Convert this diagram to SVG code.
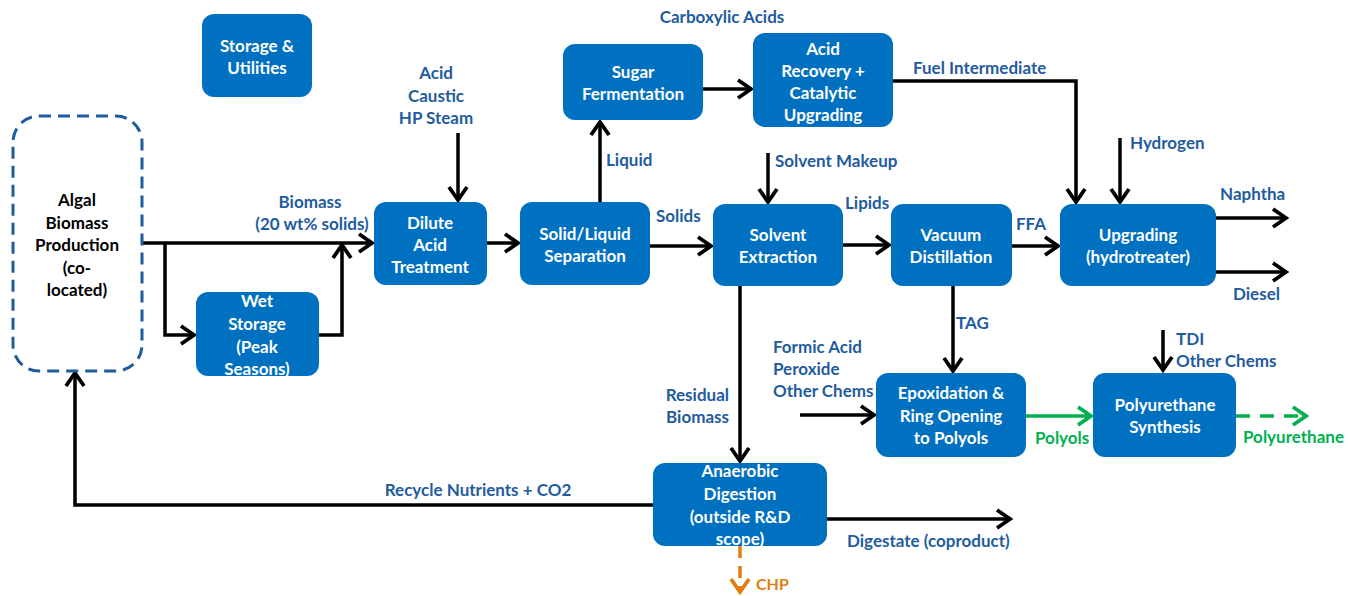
<svg xmlns="http://www.w3.org/2000/svg" width="1348" height="596" viewBox="0 0 1348 596">
<style>
.box{fill:#0070C0;}
.bt{fill:#fff;font-family:Lato,"Liberation Sans",sans-serif;font-weight:bold;font-size:17px;text-anchor:middle;}
.lb{fill:#1F5C9E;font-family:Lato,"Liberation Sans",sans-serif;font-weight:bold;font-size:17px;}
.gl{fill:#00B050;font-family:Lato,"Liberation Sans",sans-serif;font-weight:bold;font-size:17px;}
.ol{fill:#E07F10;font-family:Lato,"Liberation Sans",sans-serif;font-weight:bold;font-size:16px;}
.blk{fill:#000;font-family:Lato,"Liberation Sans",sans-serif;font-weight:bold;font-size:17px;text-anchor:middle;}
.c{fill:none;stroke:#000;stroke-width:3.5;}
.g{fill:none;stroke:#00B050;stroke-width:3.5;}
.o{fill:none;stroke:#E07F10;stroke-width:3.5;}
</style>
<defs>
<marker id="ah" markerUnits="userSpaceOnUse" markerWidth="18" markerHeight="22" refX="15" refY="11" orient="auto" viewBox="0 0 18 22">
<path d="M2,2 L15,11 L2,20" fill="none" stroke="#000" stroke-width="3.8"/>
</marker>
<marker id="ahg" markerUnits="userSpaceOnUse" markerWidth="18" markerHeight="22" refX="15" refY="11" orient="auto" viewBox="0 0 18 22">
<path d="M2,2 L15,11 L2,20" fill="none" stroke="#00B050" stroke-width="3.8"/>
</marker>
<marker id="aho" markerUnits="userSpaceOnUse" markerWidth="18" markerHeight="22" refX="15" refY="11" orient="auto" viewBox="0 0 18 22">
<path d="M2,2 L15,11 L2,20" fill="none" stroke="#E07F10" stroke-width="3.8"/>
</marker>
</defs>

<g id="connectors">
<path class="c" d="M142,243 H372" marker-end="url(#ah)"/>
<path class="c" d="M165,243 V335 H194" marker-end="url(#ah)"/>
<path class="c" d="M318,335 H342 V245" marker-end="url(#ah)"/>
<path class="c" d="M458,133 V200" marker-end="url(#ah)"/>
<path class="c" d="M486,243 H518" marker-end="url(#ah)"/>
<path class="c" d="M600,202 V122" marker-end="url(#ah)"/>
<path class="c" d="M650,246 H711" marker-end="url(#ah)"/>
<path class="c" d="M703,89 H751" marker-end="url(#ah)"/>
<path class="c" d="M893,81 H1076 V202" marker-end="url(#ah)"/>
<path class="c" d="M1120,138 V202" marker-end="url(#ah)"/>
<path class="c" d="M768,153 V202" marker-end="url(#ah)"/>
<path class="c" d="M843,245 H889" marker-end="url(#ah)"/>
<path class="c" d="M1012,246 H1058" marker-end="url(#ah)"/>
<path class="c" d="M1216,218 H1286" marker-end="url(#ah)"/>
<path class="c" d="M1216,272 H1286" marker-end="url(#ah)"/>
<path class="c" d="M953,286 V371" marker-end="url(#ah)"/>
<path class="c" d="M800,415 H874" marker-end="url(#ah)"/>
<path class="g" d="M1026,416 H1091" marker-end="url(#ahg)"/>
<path class="c" d="M1163,330 V370" marker-end="url(#ah)"/>
<path class="g" d="M1236,416 H1306" stroke-dasharray="14,10" marker-end="url(#ahg)"/>
<path class="c" d="M740,286 V461" marker-end="url(#ah)"/>
<path class="c" d="M653,505 H75 V373" marker-end="url(#ah)"/>
<path class="c" d="M827,519 H1010" marker-end="url(#ah)"/>
<path class="o" d="M740,546 V592" stroke-dasharray="12,8" marker-end="url(#aho)"/>
</g>

<g id="labels">
<text class="lb" x="310" y="208" text-anchor="middle">Biomass</text>
<text class="lb" x="312" y="230" text-anchor="middle">(20 wt% solids)</text>
<text class="lb" x="436" y="79" text-anchor="middle">Acid</text>
<text class="lb" x="436" y="102" text-anchor="middle">Caustic</text>
<text class="lb" x="436" y="124" text-anchor="middle">HP Steam</text>
<text class="lb" x="606" y="166">Liquid</text>
<text class="lb" x="656" y="222">Solids</text>
<text class="lb" x="722" y="23" text-anchor="middle">Carboxylic Acids</text>
<text class="lb" x="913" y="74">Fuel Intermediate</text>
<text class="lb" x="1130" y="149">Hydrogen</text>
<text class="lb" x="775" y="167">Solvent Makeup</text>
<text class="lb" x="845" y="209">Lipids</text>
<text class="lb" x="1016" y="230">FFA</text>
<text class="lb" x="1220" y="200">Naphtha</text>
<text class="lb" x="1233" y="300">Diesel</text>
<text class="lb" x="956" y="329">TAG</text>
<text class="lb" x="773" y="353">Formic Acid</text>
<text class="lb" x="773" y="375">Peroxide</text>
<text class="lb" x="773" y="397">Other Chems</text>
<text class="gl" x="1035" y="444">Polyols</text>
<text class="lb" x="1176" y="345">TDI</text>
<text class="lb" x="1176" y="367">Other Chems</text>
<text class="gl" x="1243" y="443">Polyurethane</text>
<text class="lb" x="729" y="401" text-anchor="end">Residual</text>
<text class="lb" x="729" y="423" text-anchor="end">Biomass</text>
<text class="lb" x="478" y="496" text-anchor="middle">Recycle Nutrients + CO2</text>
<text class="lb" x="847" y="547">Digestate (coproduct)</text>
<text class="ol" x="756" y="590">CHP</text>
</g>

<g id="storage">
<rect class="box" x="202" y="14" width="110" height="83" rx="12"/>
<text class="bt" x="257" y="52">Storage &amp;</text>
<text class="bt" x="257" y="74">Utilities</text>
</g>

<g id="algal">
<rect x="13" y="116" width="129" height="255" rx="26" fill="none" stroke="#1F5C9E" stroke-width="3" stroke-dasharray="12,7"/>
<text class="blk" x="77" y="206">Algal</text>
<text class="blk" x="77" y="229">Biomass</text>
<text class="blk" x="77" y="251">Production</text>
<text class="blk" x="77" y="274">(co-</text>
<text class="blk" x="77" y="296">located)</text>
</g>

<g id="wet">
<rect class="box" x="196" y="292" width="123" height="84" rx="12"/>
<text class="bt" x="257" y="307">Wet</text>
<text class="bt" x="257" y="330">Storage</text>
<text class="bt" x="257" y="353">(Peak</text>
<text class="bt" x="257" y="375">Seasons)</text>
</g>

<g id="dilute">
<rect class="box" x="374" y="202" width="113" height="83" rx="12"/>
<text class="bt" x="430" y="229">Dilute</text>
<text class="bt" x="430" y="251">Acid</text>
<text class="bt" x="430" y="273">Treatment</text>
</g>

<g id="solidliquid">
<rect class="box" x="520" y="202" width="130" height="83" rx="12"/>
<text class="bt" x="585" y="240">Solid/Liquid</text>
<text class="bt" x="585" y="262">Separation</text>
</g>

<g id="sugar">
<rect class="box" x="563" y="44" width="140" height="76" rx="12"/>
<text class="bt" x="633" y="78">Sugar</text>
<text class="bt" x="633" y="100">Fermentation</text>
</g>

<g id="acidrecovery">
<rect class="box" x="753" y="33" width="140" height="94" rx="12"/>
<text class="bt" x="823" y="55">Acid</text>
<text class="bt" x="823" y="77">Recovery +</text>
<text class="bt" x="823" y="99">Catalytic</text>
<text class="bt" x="823" y="121">Upgrading</text>
</g>

<g id="solvent">
<rect class="box" x="713" y="204" width="130" height="82" rx="12"/>
<text class="bt" x="778" y="241">Solvent</text>
<text class="bt" x="778" y="263">Extraction</text>
</g>

<g id="vacuum">
<rect class="box" x="891" y="204" width="121" height="82" rx="12"/>
<text class="bt" x="951" y="241">Vacuum</text>
<text class="bt" x="951" y="263">Distillation</text>
</g>

<g id="upgrading">
<rect class="box" x="1060" y="204" width="156" height="82" rx="12"/>
<text class="bt" x="1138" y="241">Upgrading</text>
<text class="bt" x="1138" y="263">(hydrotreater)</text>
</g>

<g id="epoxidation">
<rect class="box" x="876" y="373" width="150" height="84" rx="12"/>
<text class="bt" x="951" y="399">Epoxidation &amp;</text>
<text class="bt" x="951" y="422">Ring Opening</text>
<text class="bt" x="951" y="444">to Polyols</text>
</g>

<g id="polyurethane">
<rect class="box" x="1093" y="373" width="143" height="84" rx="12"/>
<text class="bt" x="1165" y="411">Polyurethane</text>
<text class="bt" x="1165" y="433">Synthesis</text>
</g>

<g id="anaerobic">
<rect class="box" x="653" y="463" width="174" height="83" rx="12"/>
<text class="bt" x="740" y="477">Anaerobic</text>
<text class="bt" x="740" y="500">Digestion</text>
<text class="bt" x="740" y="523">(outside R&amp;D</text>
<text class="bt" x="740" y="545">scope)</text>
</g>
</svg>
